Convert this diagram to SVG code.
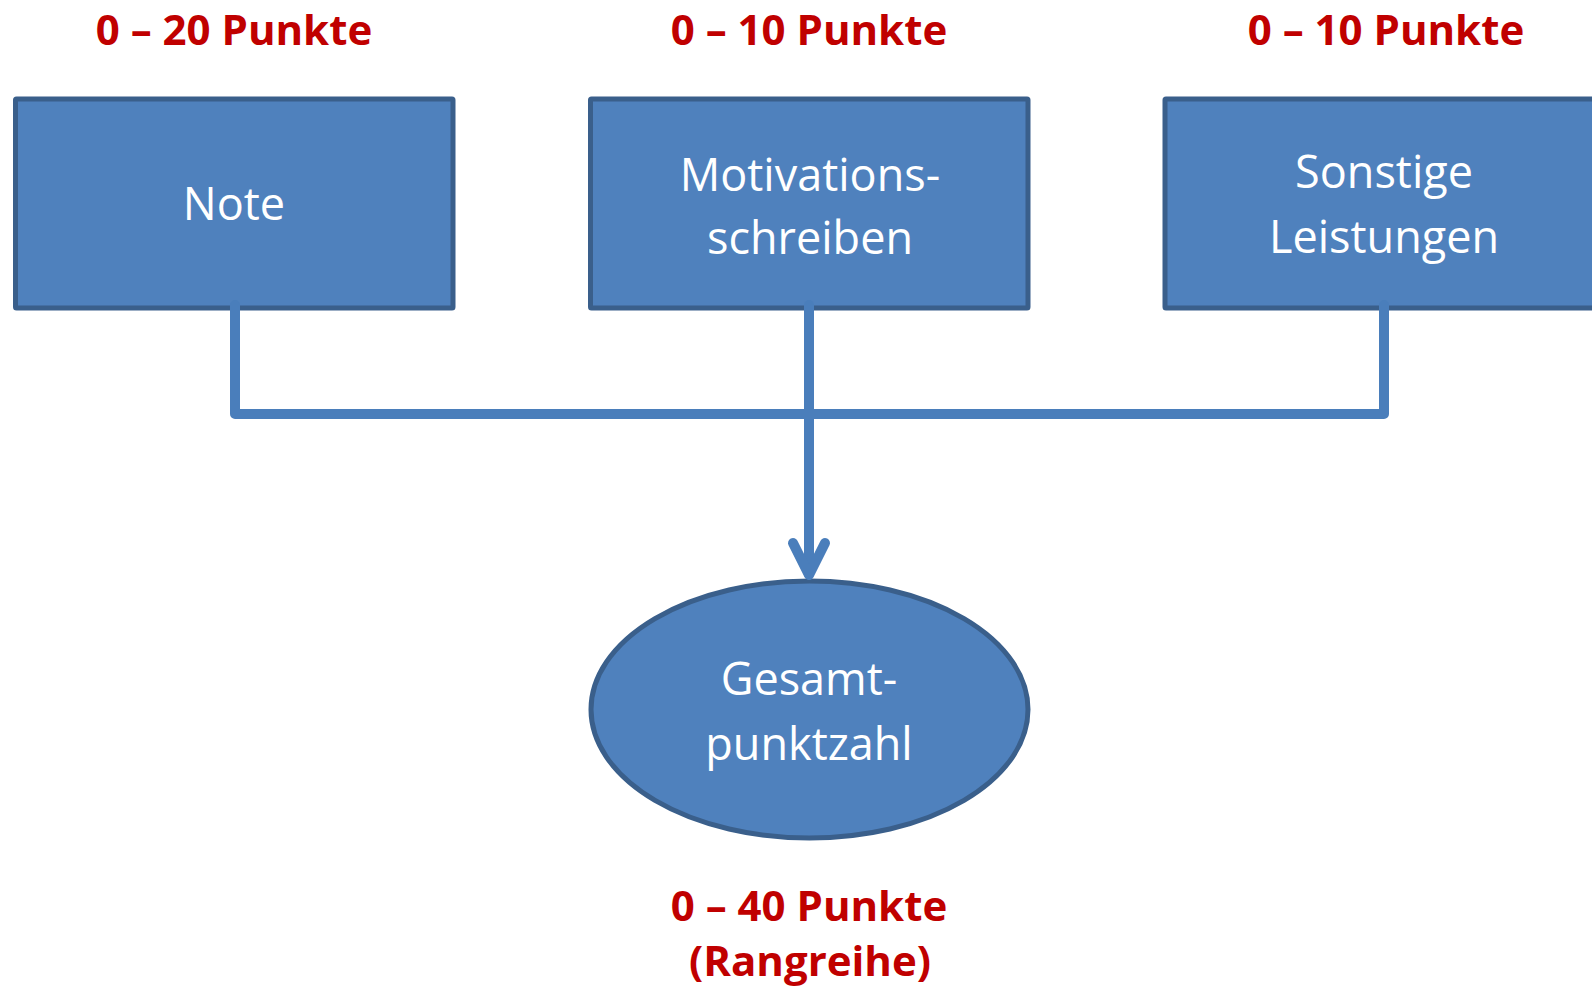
<svg xmlns="http://www.w3.org/2000/svg" width="1592" height="989" viewBox="0 0 1592 989">
<style>
.box{fill:#4F81BD;stroke:#3A5F8B;stroke-width:5}
.lbl{font-family:"Open Sans","Liberation Sans",sans-serif;font-size:45px;fill:#FFFFFF;text-anchor:middle}
.pts{font-family:"Open Sans","Liberation Sans",sans-serif;font-size:42px;font-weight:bold;fill:#C00000;text-anchor:middle}
.con{fill:none;stroke:#4A7EBB;stroke-width:10;stroke-linecap:round;stroke-linejoin:round}
</style>
<rect width="1592" height="989" fill="#FFFFFF"/>
<g id="label-note"><text class="pts" x="234" y="45">0 – 20 Punkte</text></g>
<g id="label-motivation"><text class="pts" x="809" y="45">0 – 10 Punkte</text></g>
<g id="label-sonstige"><text class="pts" x="1386" y="45">0 – 10 Punkte</text></g>
<g id="node-note">
<rect class="box" x="15.5" y="99" width="437.5" height="209" rx="1"/>
<text class="lbl" x="234" y="220">Note</text>
</g>
<g id="node-motivation">
<rect class="box" x="590.5" y="99" width="437.5" height="209" rx="1"/>
<text class="lbl" x="810" y="191">Motivations-</text>
<text class="lbl" x="810" y="254">schreiben</text>
</g>
<g id="node-sonstige">
<rect class="box" x="1165" y="99" width="437.5" height="209" rx="1"/>
<text class="lbl" x="1384" y="188">Sonstige</text>
<text class="lbl" x="1384" y="253">Leistungen</text>
</g>
<g id="node-gesamt">
<ellipse class="box" cx="809.5" cy="709.5" rx="218.5" ry="128.5"/>
<text class="lbl" x="809" y="695">Gesamt-</text>
<text class="lbl" x="809" y="760">punktzahl</text>
</g>
<g id="label-gesamt">
<text class="pts" x="809" y="921">0 – 40 Punkte</text>
<text class="pts" x="810" y="976">(Rangreihe)</text>
</g>
<g id="connectors">
<path class="con" d="M235 305 V414 H1384 V305"/>
<path class="con" d="M809 305 V574"/>
<path class="con" d="M793 543 L809 575 L825 543"/>
</g>
</svg>
